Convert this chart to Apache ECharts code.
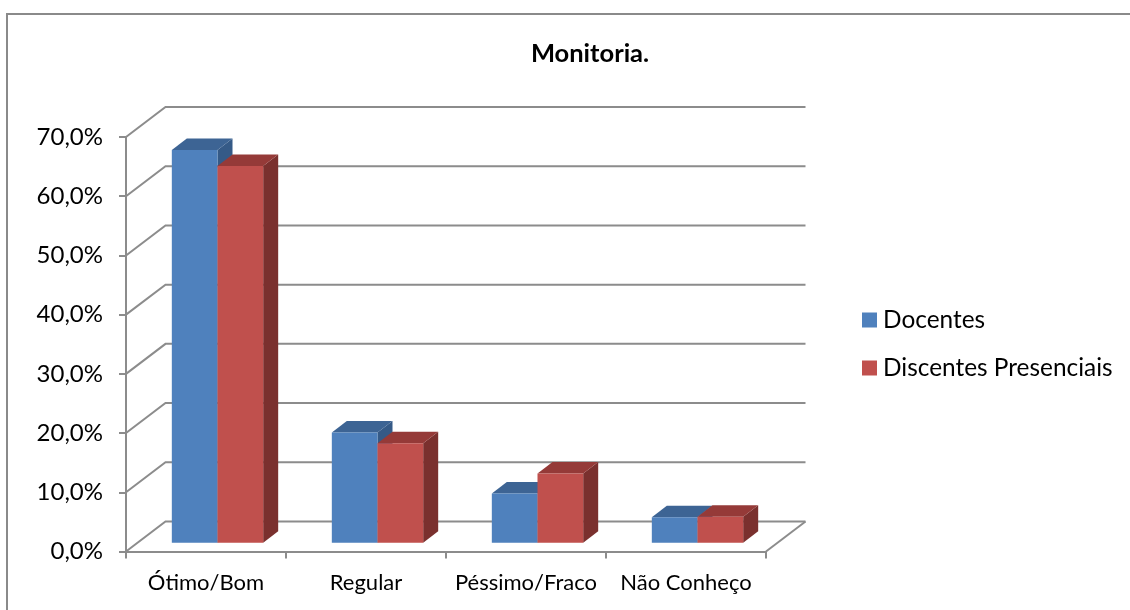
<!DOCTYPE html>
<html>
<head>
<meta charset="utf-8">
<style>html,body{margin:0;padding:0;background:#fff}#c{width:1130px;height:610px}</style>
<script src="https://cdn.jsdelivr.net/npm/echarts@6/dist/echarts.min.js"></script>
</head>
<body>
<div id="c"></div>
<script>
const categories = ['Ótimo/Bom', 'Regular', 'Péssimo/Fraco', 'Não Conheço'];
const docentes = [66.3, 18.6, 8.3, 4.3];
const discentes = [63.6, 16.8, 11.7, 4.4];
const wallTicks = [0, 10, 20, 30, 40, 50, 60, 70];

const FONT = 'Lato, "Open Sans", sans-serif';
const WALL = [39.5, -30];
const FRONT = [11.5, -8.8];
const DEPTH = [15, -11.5];
const GRID = '#8c8c8c';

function wallItem(params, api) {
  const r = params.coordSys;
  const y = api.coord([0, api.value(1)])[1];
  const x0 = r.x, x1 = r.x + r.width;
  return {
    type: 'polyline',
    shape: { points: [[x0, y], [x0 + WALL[0], y + WALL[1]], [x1 + WALL[0], y + WALL[1]]] },
    style: { fill: null, stroke: GRID, lineWidth: 2 }
  };
}
function floorEdge(params, api) {
  const r = params.coordSys;
  const x1 = r.x + r.width, y = r.y + r.height;
  return {
    type: 'line',
    shape: { x1: x1, y1: y, x2: x1 + WALL[0], y2: y + WALL[1] },
    style: { stroke: GRID, lineWidth: 2 }
  };
}
function barItem(side, front, top, right) {
  return function (params, api) {
    const cx = api.coord([api.value(0), 0])[0] + FRONT[0];
    const y0 = api.coord([0, 0])[1] + FRONT[1];
    const y1 = api.coord([0, api.value(1)])[1] + FRONT[1];
    const w = api.size([1, 0])[0] * 0.2855;
    const xa = side < 0 ? cx - w : cx, xb = xa + w;
    const d = DEPTH;
    return {
      type: 'group',
      children: [
        { type: 'polygon', shape: { points: [[xb, y0], [xb + d[0], y0 + d[1]], [xb + d[0], y1 + d[1]], [xb, y1]] }, style: { fill: right } },
        { type: 'polygon', shape: { points: [[xa, y1], [xa + d[0], y1 + d[1]], [xb + d[0], y1 + d[1]], [xb, y1]] }, style: { fill: top } },
        { type: 'rect', shape: { x: xa, y: y1, width: w, height: y0 - y1 }, style: { fill: front } }
      ]
    };
  };
}

const chart = echarts.init(document.getElementById('c'), null, { renderer: 'canvas' });
chart.setOption({
  animation: false,
  backgroundColor: '#ffffff',
  title: {
    text: 'Monitoria.',
    left: 585, top: 36, textAlign: 'center',
    textStyle: { fontFamily: FONT, fontSize: 25.5, fontWeight: 'bold', color: '#000' }
  },
  legend: {
    orient: 'vertical', left: 857, top: 303, itemWidth: 15, itemHeight: 15, itemGap: 24,
    icon: 'rect', data: ['Docentes', 'Discentes Presenciais'],
    textStyle: { fontFamily: FONT, fontSize: 24.4, color: '#000', padding: [0, 0, 0, 1] }
  },
  grid: { left: 126, right: 364, top: 137, bottom: 58.5 },
  xAxis: {
    type: 'category', data: categories,
    axisLine: { lineStyle: { color: GRID, width: 2 } },
    axisTick: { show: true, length: 7, lineStyle: { color: GRID, width: 2 } },
    axisLabel: { fontFamily: FONT, fontSize: 22, color: '#000', margin: 20, interval: 0 },
    splitLine: { show: false }
  },
  yAxis: {
    type: 'value', min: 0, max: 70, interval: 10,
    axisLine: { show: true, lineStyle: { color: GRID, width: 2 } },
    axisTick: { show: true, length: 7, lineStyle: { color: GRID, width: 2 } },
    axisLabel: {
      fontFamily: FONT, fontSize: 24, color: '#000', margin: 23, padding: [3, 0, 0, 0],
      formatter: v => v.toFixed(1).replace('.', ',') + '%'
    },
    splitLine: { show: false }
  },
  graphic: [
    { type: 'polyline', silent: true, shape: { points: [[7, 610], [7, 14], [1130, 14]] }, style: { fill: null, stroke: '#8a8a8a', lineWidth: 2 } }
  ],
  series: [
    { type: 'custom', name: 'walls', z: 1, silent: true, renderItem: wallItem, data: wallTicks.map(v => [0, v]), encode: { x: 0, y: 1 } },
    { type: 'custom', name: 'floor', z: 1, silent: true, renderItem: floorEdge, data: [[0, 0]], encode: { x: 0, y: 1 } },
    {
      type: 'custom', name: 'Docentes', z: 3, itemStyle: { color: '#4F81BD' },
      renderItem: barItem(-1, '#4F81BD', '#3D6494', '#355A87'),
      data: docentes.map((v, i) => [i, v]), encode: { x: 0, y: 1 }
    },
    {
      type: 'custom', name: 'Discentes Presenciais', z: 4, itemStyle: { color: '#C0504D' },
      renderItem: barItem(1, '#C0504D', '#953A38', '#7A302E'),
      data: discentes.map((v, i) => [i, v]), encode: { x: 0, y: 1 }
    }
  ]
});
</script>
</body>
</html>
